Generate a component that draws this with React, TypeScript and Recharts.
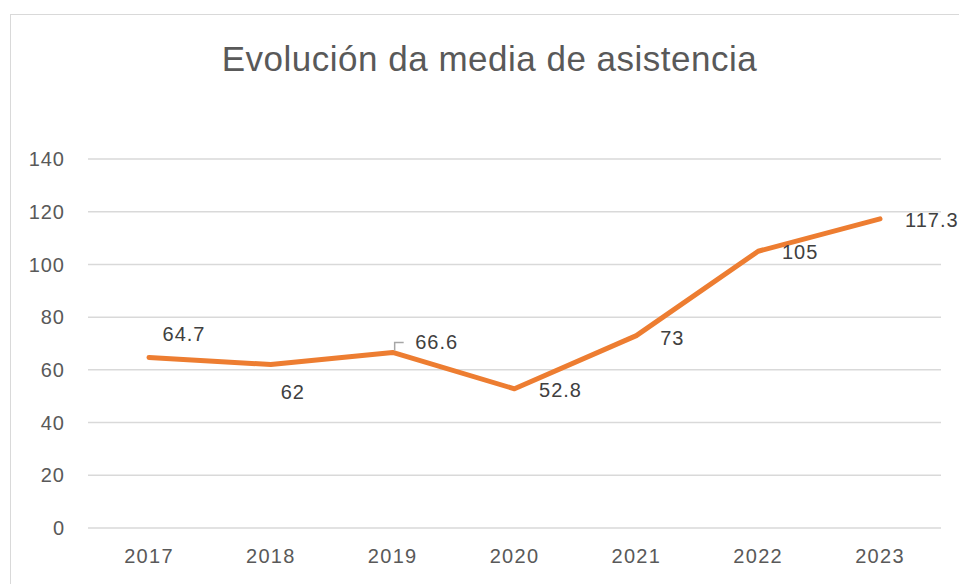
import React from "react";
import { LineChart, Line, XAxis, YAxis, CartesianGrid, LabelList } from "recharts";

const years = ["2017", "2018", "2019", "2020", "2021", "2022", "2023"];
const attendance = [64.7, 62, 66.6, 52.8, 73, 105, 117.3];
const yTicks = [0, 20, 40, 60, 80, 100, 120, 140];
const title = "Evolución da media de asistencia";

// label placement relative to point (style only)
const labelDx = [35, 22, 44, 46, 36, 42, 25];
const labelDy = [-23, 27, -10, 1, 2, 1, 1];
const labelAnchor = ["middle", "middle", "middle", "middle", "middle", "middle", "start"];

const data = years.map((y, i) => ({ year: y, value: attendance[i] }));

const FONT = "'Liberation Sans', Arial, sans-serif";

const DataLabel = (props: any) => {
  const { x, y, value, index } = props;
  const dx = labelDx[index];
  const dy = labelDy[index];
  const anchor = labelAnchor[index];
  return (
    <g>
      {index === 2 && (
        <path
          d={`M${x + 2},${y - 2} L${x + 2},${y - 10} L${x + 11},${y - 10}`}
          stroke="#a6a6a6"
          strokeWidth={1.5}
          fill="none"
        />
      )}
      <text
        x={x + dx}
        y={y + dy}
        textAnchor={anchor}
        dominantBaseline="central"
        fontSize={20}
        letterSpacing={1}
        fontFamily={FONT}
        fill="#404040"
      >
        {value}
      </text>
    </g>
  );
};

export default function App() {
  return (
    <div style={{ position: "absolute", left: 0, top: 0, width: 959, height: 584, background: "#fff", overflow: "hidden" }}>
      <div
        style={{
          position: "absolute",
          left: 10,
          top: 14,
          width: 1000,
          height: 640,
          border: "1.5px solid #d9d9d9",
          boxSizing: "border-box",
        }}
      />
      <div
        style={{
          position: "absolute",
          left: 0,
          width: 979,
          top: 37,
          textAlign: "center",
          fontFamily: FONT,
          fontSize: 35,
          letterSpacing: 0.5,
          lineHeight: "44px",
          color: "#595959",
        }}
      >
        {title}
      </div>
      <div style={{ position: "absolute", left: 0, top: 0 }}>
        <LineChart
          width={959}
          height={584}
          data={data}
          margin={{ top: 159, right: 18, bottom: 0, left: 0 }}
        >
          <CartesianGrid vertical={false} stroke="#d9d9d9" strokeWidth={1.5} />
          <XAxis
            dataKey="year"
            padding={{ left: 61, right: 61 }}
            axisLine={false}
            tickLine={false}
            tickSize={0}
            tickMargin={21}
            height={56}
            tick={{ fontSize: 20, fontFamily: FONT, fill: "#595959", letterSpacing: 1.3 }}
            interval={0}
          />
          <YAxis
            domain={[0, 140]}
            ticks={yTicks}
            axisLine={false}
            tickLine={false}
            tickSize={0}
            tickMargin={23}
            width={88}
            tick={{ fontSize: 20, fontFamily: FONT, fill: "#595959", letterSpacing: 1 }}
          />
          <Line
            type="linear"
            dataKey="value"
            stroke="#ED7D31"
            strokeWidth={5}
            strokeLinecap="round"
            strokeLinejoin="round"
            dot={false}
            activeDot={false}
            isAnimationActive={false}
          >
            <LabelList dataKey="value" content={<DataLabel />} />
          </Line>
        </LineChart>
      </div>
    </div>
  );
}
